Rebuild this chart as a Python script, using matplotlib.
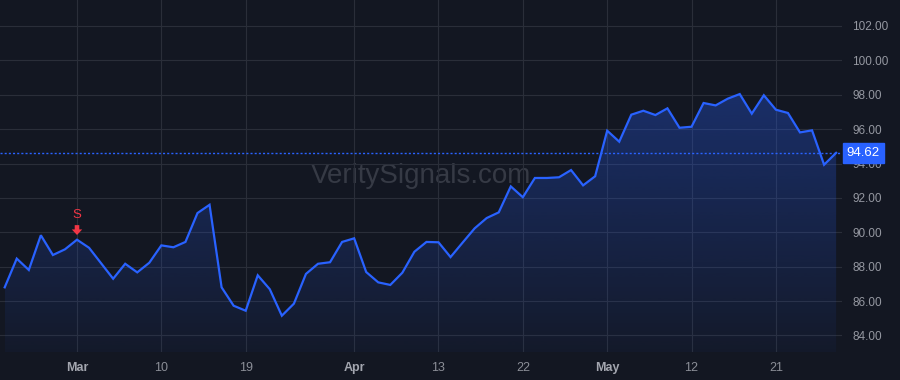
import numpy as np
import matplotlib
matplotlib.use("Agg")
import matplotlib.pyplot as plt
from matplotlib.patches import PathPatch
from matplotlib.colors import to_rgb

plt.rcParams['font.family'] = ['Liberation Sans', 'DejaVu Sans']

# price series (one point per bar)
prices = [86.80, 88.47, 87.81, 89.83, 88.68, 89.01, 89.57, 89.10, 88.20, 87.30,
          88.17, 87.67, 88.23, 89.24, 89.13, 89.44, 91.12, 91.60, 86.80, 85.73,
          85.44, 87.50, 86.69, 85.15, 85.85, 87.58, 88.17, 88.26, 89.44, 89.65,
          87.69, 87.09, 86.94, 87.65, 88.87, 89.44, 89.42, 88.56, 89.40, 90.23,
          90.83, 91.16, 92.67, 92.04, 93.16, 93.16, 93.20, 93.62, 92.73, 93.26,
          95.91, 95.27, 96.84, 97.07, 96.82, 97.21, 96.08, 96.14, 97.52, 97.38,
          97.77, 98.04, 96.90, 97.97, 97.13, 96.94, 95.81, 95.93, 93.93, 94.62]
last_price = 94.62

# x tick labels (bar index -> label), month starts are bold
tick_pos = [6, 13, 20, 29, 36, 43, 50, 57, 64]
tick_labels = ["Mar", "10", "19", "Apr", "13", "22", "May", "12", "21"]
month_labels = ["Mar", "Apr", "May"]
y_ticks = [84, 86, 88, 90, 92, 94, 96, 98, 100, 102]

# signal markers
signal_idx = [6]
signal_text = ["S"]

bg = "#131722"
grid_c = "#2a2e39"
blue = "#2962ff"
red = "#f23645"

x = np.arange(len(prices))
y_lo, y_hi = 83.04, 103.51

fig = plt.figure(figsize=(9, 3.8), dpi=100, facecolor=bg)
ax = fig.add_axes([0, 0.0737, 0.9356, 0.9263], facecolor=bg)

ax.set_xlim(-0.39, 69.49)
ax.set_ylim(y_lo, y_hi)

# gradient area under the line
fill = ax.fill_between(x, prices, y_lo, color="none", lw=0)
patch = PathPatch(fill.get_paths()[0], transform=ax.transData, facecolor="none", edgecolor="none")
ax.add_patch(patch)
r, g, b = to_rgb(blue)
grad = np.zeros((256, 1, 4))
grad[:, 0, 0] = r
grad[:, 0, 1] = g
grad[:, 0, 2] = b
grad[:, 0, 3] = np.linspace(0.04, 0.32, 256)
im = ax.imshow(grad, extent=[x[0], x[-1], y_lo, max(prices)], aspect="auto",
               origin="lower", zorder=1, interpolation="bicubic")
im.set_clip_path(patch)

ax.plot(x, prices, color=blue, lw=1.6, zorder=3, solid_joinstyle="miter")

# last price line + label
ax.axhline(last_price, color=blue, lw=1, ls=(0, (1.5, 1.5)), zorder=2)
ax.text(1.0 + 4.5 / 842, last_price, f"{last_price:.2f}", transform=ax.get_yaxis_transform(),
        ha="left", va="center", color="white", fontsize=9.5, zorder=5, clip_on=False,
        bbox=dict(boxstyle="square,pad=0.3", fc=blue, ec=blue))

# signal markers
for i, t in zip(signal_idx, signal_text):
    ax.annotate("", xy=(x[i], prices[i]), xytext=(0, 10.5), textcoords="offset points",
                arrowprops=dict(arrowstyle="simple,head_length=0.4,head_width=0.75,tail_width=0.33",
                                mutation_scale=10, color=red, lw=0, shrinkA=0, shrinkB=3.4),
                zorder=4)
    ax.annotate(t, xy=(x[i], prices[i]), xytext=(0, 17.5), textcoords="offset points",
                ha="center", va="center", color=red, fontsize=9.5, zorder=4)

# watermark
ax.text(0.5, 0.5, "VeritySignals.com", transform=ax.transAxes, ha="center", va="center",
        fontsize=20, color="#363a45", zorder=0)

# axes styling
ax.set_yticks(y_ticks)
ax.set_yticklabels([f"{v:.2f}" for v in y_ticks])
ax.yaxis.tick_right()
ax.set_xticks(tick_pos)
ax.set_xticklabels(tick_labels)
ax.tick_params(axis="y", length=0, pad=7.5, labelsize=8.5, labelcolor="#9598a1")
ax.tick_params(axis="x", length=0, pad=7, labelsize=9, labelcolor="#8b8e97")
for lab in ax.get_xticklabels():
    if lab.get_text() in month_labels:
        lab.set_fontweight("bold")
        lab.set_color("#a3a6af")
ax.grid(True, color=grid_c, lw=0.8, zorder=0)
ax.set_axisbelow(True)
for s in ax.spines.values():
    s.set_visible(False)

fig.savefig("out.png", dpi=100, facecolor=bg)
